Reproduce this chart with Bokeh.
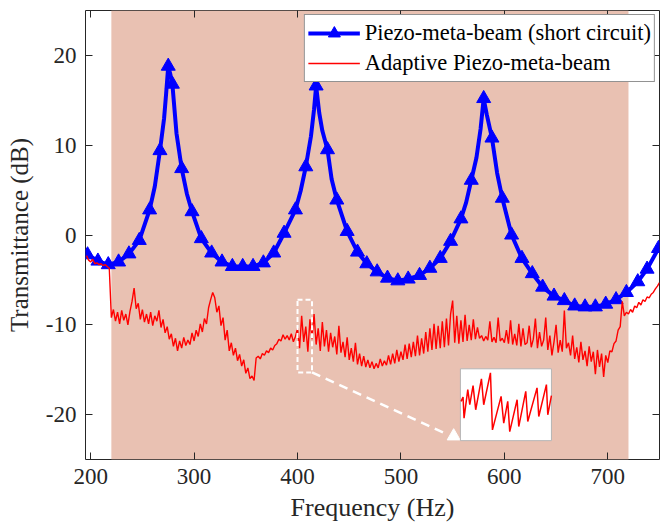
import numpy as np
from bokeh.plotting import figure
from bokeh.models import (BoxAnnotation, LinearAxis, Legend, LegendItem,
                          FixedTicker, Range1d)
from bokeh.embed import file_html
from bokeh.resources import INLINE

# ---------------- data ----------------
x_range = (195, 750)
y_range = (-25, 25)
x_ticks = [200, 300, 400, 500, 600, 700]
x_tick_labels = ["200", "300", "400", "500", "600", "700"]
y_ticks = [-20, -10, 0, 10, 20]
y_tick_labels = ["-20", "-10", "0", "10", "20"]

band_start = 220
band_end = 720

# Piezo-meta-beam (short circuit): marker points
sc_marker_freq = [197, 207, 217, 227, 237, 247, 257, 267, 275, 279, 288, 298,
                  307, 317, 327, 337, 347, 357, 367, 377, 387, 398, 408, 418,
                  429, 438, 448, 458, 467, 477, 487, 497, 507, 518, 528, 538,
                  548, 558, 568, 580, 588, 598, 607, 617, 627, 637, 648, 658,
                  668, 678, 688, 698, 708, 718, 729, 738, 749]
sc_marker_db = [-2.2, -2.9, -3.3, -3.0, -2.1, -0.6, 2.8, 9.4, 18.8, 16.8, 7.4, 2.6,
                -0.4, -2.0, -3.0, -3.5, -3.5, -3.5, -3.1, -2.0, 0.2, 2.8, 7.6, 16.6,
                9.5, 3.9, 0.4, -1.9, -3.2, -4.1, -4.8, -5.1, -4.9, -4.5, -3.7, -2.6,
                -0.7, 1.8, 6.1, 15.2, 10.8, 4.1, 0.0, -2.6, -4.3, -5.8, -6.8, -7.3,
                -7.9, -8.0, -8.0, -7.7, -7.2, -6.4, -5.2, -3.8, -1.5]
# extra line points between markers
sc_extra_freq = [262, 271, 273, 277, 283, 293, 403, 413, 416, 421, 424, 433,
                 563, 573, 577, 583, 593]
sc_extra_db = [5.4, 13.0, 15.8, 17.9, 11.3, 4.6, 4.9, 11.0, 14.0, 13.6, 11.6, 6.2,
               3.6, 8.6, 11.8, 13.4, 6.9]

# Adaptive Piezo-meta-beam: values every 2 Hz from 196 Hz
ad_start = 196
ad_step = 2
ad_db = [
    -2.3, -2.8, -3.0, -2.7, -3.2, -3.1, -3.3, -3.2, -3.4, -3.3,
    -3.5, -3.7, -9.2, -8.3, -9.6, -8.6, -9.9, -8.4, -9.5, -8.8,
    -10.0, -8.5, -7.4, -5.9, -8.2, -7.6, -9.4, -8.3, -9.7, -8.8,
    -9.9, -8.6, -10.1, -9.0, -9.6, -8.4, -10.3, -9.4, -10.9, -10.2,
    -11.6, -11.0, -12.4, -11.5, -12.9, -11.8, -12.6, -11.4, -12.3, -11.7,
    -12.2, -10.9, -11.8, -10.6, -11.3, -9.9, -10.8, -9.3, -9.9, -8.1,
    -7.2, -6.4, -7.0, -8.6, -7.9, -10.1, -9.2, -11.7, -10.6, -12.9,
    -12.0, -13.4, -12.6, -14.0, -13.3, -14.6, -13.9, -15.4, -14.8, -16.0,
    -15.7, -16.2, -13.7, -13.5, -13.8, -13.2, -13.4, -12.9, -13.1, -12.6,
    -12.8, -12.3, -12.1, -11.6, -11.8, -11.1, -11.6, -11.2, -11.7, -11.0,
    -11.9, -11.3, -10.4, -12.6, -9.0, -11.9, -10.2, -13.0, -9.4, -11.6,
    -8.8, -12.2, -10.4, -12.9, -9.7, -12.4, -10.6, -13.0, -10.9, -12.5,
    -11.3, -13.3, -10.1, -13.1, -11.9, -13.6, -11.4, -13.9, -12.6, -14.1,
    -12.0, -14.4, -13.2, -14.6, -13.5, -14.7, -13.9, -14.8, -14.1, -14.9,
    -14.3, -14.8, -13.8, -14.6, -14.0, -14.5, -13.4, -14.4, -13.2, -14.3,
    -12.8, -14.1, -13.0, -13.9, -12.2, -13.8, -12.1, -13.6, -11.9, -13.5,
    -11.2, -13.4, -11.5, -13.2, -10.8, -13.0, -10.4, -12.8, -9.9, -12.7,
    -10.1, -12.6, -9.6, -12.5, -9.3, -12.3, -8.8, -7.3, -12.0, -9.0,
    -12.1, -9.5, -11.9, -8.9, -11.8, -10.0, -11.7, -9.4, -11.6, -10.3,
    -11.5, -11.2, -11.8, -11.3, -11.7, -9.6, -11.9, -11.4, -12.0, -9.2,
    -11.8, -11.5, -12.0, -10.6, -12.1, -9.5, -12.2, -11.0, -12.3, -9.9,
    -12.4, -10.4, -12.2, -12.0, -10.1, -12.5, -11.6, -9.3, -12.6, -10.8,
    -12.4, -11.7, -9.2, -12.8, -11.2, -13.4, -11.9, -10.0, -13.1, -11.7,
    -13.0, -8.4, -12.6, -12.0, -13.4, -11.2, -13.8, -12.5, -14.2, -11.9,
    -13.9, -12.9, -14.6, -12.4, -14.1, -13.0, -15.5, -12.8, -14.7, -13.2,
    -15.8, -13.4, -14.2, -12.9, -13.0, -12.1, -11.8, -10.6, -10.2, -7.4,
    -9.0, -8.6, -8.8, -8.3, -8.6, -7.9, -8.1, -7.5, -7.8, -7.2,
    -7.4, -6.9, -7.0, -6.6, -6.4, -6.0, -5.7, -5.3,
]
ad_freq = [ad_start + ad_step * i for i in range(len(ad_db))]

# zoom annotation: dashed window, connector, inset
zoom_win_freq = (400, 414)
zoom_win_db = (-15.3, -7.2)
connector_freq = [414, 545]
connector_db = [-15.3, -22.2]
arrow_freq = [551]
arrow_db = [-22.4]
inset_freq = (557.5, 645.5)
inset_db = (-22.9, -14.9)
# inset curve, normalised position inside the inset box
inset_u = [0.007, 0.029, 0.040, 0.081, 0.103, 0.139, 0.168, 0.231, 0.256, 0.330,
           0.352, 0.447, 0.476, 0.520, 0.542, 0.623, 0.641, 0.718, 0.740, 0.842,
           0.861, 0.945, 0.960, 1.000]
inset_v = [0.547, 0.607, 0.313, 0.710, 0.500, 0.766, 0.430, 0.860, 0.500, 0.944,
           0.150, 0.617, 0.243, 0.547, 0.126, 0.570, 0.196, 0.687, 0.266, 0.734,
           0.336, 0.780, 0.360, 0.626]

# ---------------- plot ----------------
FONT = "Liberation Serif"
DARK = "#262626"

sc_line = sorted(zip(sc_marker_freq + sc_extra_freq, sc_marker_db + sc_extra_db))
sc_line_freq = [a for a, b in sc_line]
sc_line_db = [b for a, b in sc_line]

p = figure(width=667, height=526, output_backend="svg", toolbar_location=None,
           x_range=Range1d(*x_range), y_range=Range1d(*y_range),
           min_border_left=85, min_border_right=8, min_border_top=10,
           min_border_bottom=67)
p.background_fill_color = "white"
p.border_fill_color = "white"
p.grid.visible = False
p.outline_line_color = DARK
p.outline_line_width = 1

band = BoxAnnotation(left=band_start, right=band_end, fill_color="#E9C1B2",
                     fill_alpha=1.0, line_color=None, level="underlay")
p.add_layout(band)

blue_line = p.line(sc_line_freq, sc_line_db, line_color="#0000FF", line_width=4)
blue_mark = p.scatter(sc_marker_freq, sc_marker_db, marker="triangle", size=14,
                      fill_color="#0000FF", line_color="#0000FF")
red_line = p.line(ad_freq, ad_db, line_color="#FF0000", line_width=1.4)

# zoom window
p.quad(left=[zoom_win_freq[0]], right=[zoom_win_freq[1]],
       bottom=[zoom_win_db[0]], top=[zoom_win_db[1]],
       fill_color=None, line_color="white", line_width=2, line_dash="5 3")
p.line(connector_freq, connector_db, line_color="white", line_width=2.5,
       line_dash="9 6")
p.scatter(arrow_freq, arrow_db, marker="triangle", size=13,
          fill_color="white", line_color="white")
# inset
p.quad(left=[inset_freq[0]], right=[inset_freq[1]],
       bottom=[inset_db[0]], top=[inset_db[1]],
       fill_color="white", line_color="#B5B5B5", line_width=1)
inset_x = [inset_freq[0] + u * (inset_freq[1] - inset_freq[0]) for u in inset_u]
inset_y = [inset_db[0] + v * (inset_db[1] - inset_db[0]) for v in inset_v]
p.line(inset_x, inset_y, line_color="#FF0000", line_width=1.5)

# axes
def style_axis(ax, show_labels=True):
    ax.axis_line_color = None
    ax.major_tick_in = 7
    ax.major_tick_out = 0
    ax.minor_tick_line_color = None
    ax.major_tick_line_color = DARK
    ax.major_tick_line_width = 1
    ax.major_label_text_font = FONT
    if show_labels:
        ax.major_label_text_color = DARK
        ax.major_label_text_font_size = "23px"
    else:
        ax.major_label_text_color = None
        ax.major_label_text_alpha = 0
        ax.major_label_text_font_size = "1px"
        ax.major_label_standoff = 0

p.xaxis.ticker = FixedTicker(ticks=x_ticks)
p.yaxis.ticker = FixedTicker(ticks=y_ticks)
p.xaxis.major_label_overrides = dict(zip(x_ticks, x_tick_labels))
p.yaxis.major_label_overrides = dict(zip(y_ticks, y_tick_labels))
style_axis(p.xaxis[0])
style_axis(p.yaxis[0])
p.xaxis.major_label_standoff = 9
p.yaxis.major_label_standoff = 9
p.xaxis.axis_label = "Frequency (Hz)"
p.yaxis.axis_label = "Transmittance (dB)"
for ax in (p.xaxis[0], p.yaxis[0]):
    ax.axis_label_text_font = FONT
    ax.axis_label_text_font_style = "normal"
    ax.axis_label_text_color = DARK
p.xaxis.axis_label_text_font_size = "26px"
p.yaxis.axis_label_text_font_size = "25px"
p.xaxis.axis_label_standoff = 6
p.yaxis.axis_label_standoff = 10

top_ax = LinearAxis(ticker=FixedTicker(ticks=x_ticks))
right_ax = LinearAxis(ticker=FixedTicker(ticks=y_ticks))
style_axis(top_ax, False)
style_axis(right_ax, False)
p.add_layout(top_ax, "above")
p.add_layout(right_ax, "right")

legend = Legend(items=[
    LegendItem(label="Piezo-meta-beam (short circuit)", renderers=[blue_line, blue_mark]),
    LegendItem(label="Adaptive Piezo-meta-beam", renderers=[red_line]),
], location="top_right")
legend.label_text_font = FONT
legend.label_text_font_size = "22.5px"
legend.label_text_color = "black"
legend.glyph_width = 52
legend.glyph_height = 30
legend.label_height = 30
legend.label_standoff = 5
legend.spacing = 0
legend.padding = 3
legend.margin = 4
legend.border_line_color = DARK
legend.border_line_width = 1
legend.background_fill_color = "white"
legend.background_fill_alpha = 1.0
p.add_layout(legend)

open("out.html", "w").write(file_html(p, INLINE))
